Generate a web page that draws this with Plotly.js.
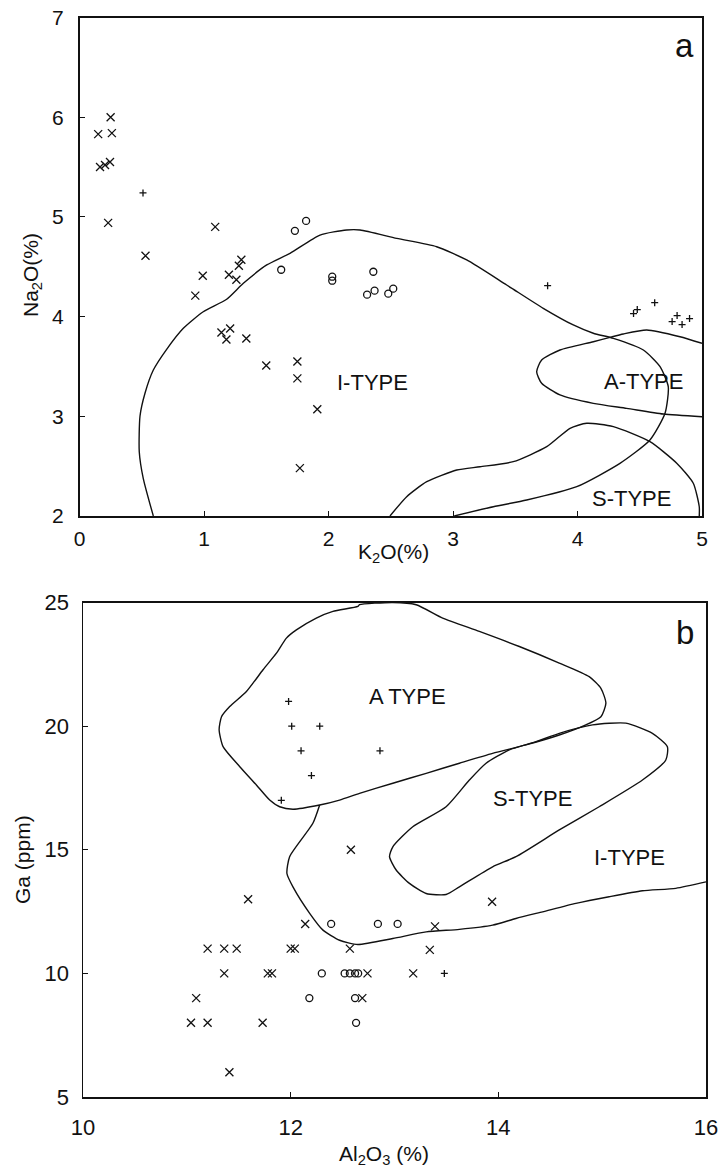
<!DOCTYPE html>
<html>
<head>
<meta charset="utf-8">
<script src="https://cdn.plot.ly/plotly-3.0.1.min.js"></script>
<style>html,body{margin:0;padding:0;background:#fff}#chart{width:722px;height:1167px}</style>
</head>
<body>
<div id="chart"></div>
<script>
// ---------- Panel a : Na2O vs K2O ----------
const aCrossK  = [0.25,0.15,0.26,0.165,0.205,0.245,0.23,1.09,0.53,0.99,0.93,1.20,1.26,1.30,1.28,1.14,1.21,1.18,1.34,1.50,1.75,1.75,1.91,1.77];
const aCrossNa = [6.00,5.83,5.84,5.50,5.52,5.55,4.94,4.90,4.61,4.41,4.21,4.42,4.37,4.57,4.51,3.84,3.88,3.77,3.78,3.51,3.55,3.38,3.07,2.48];
const aCircK   = [1.62,1.73,1.82,2.03,2.03,2.36,2.31,2.37,2.48,2.52];
const aCircNa  = [4.47,4.86,4.96,4.40,4.36,4.45,4.22,4.26,4.23,4.28];
const aPlusK   = [0.51,3.76,4.62,4.45,4.48,4.80,4.76,4.84,4.90];
const aPlusNa  = [5.24,4.31,4.14,4.03,4.07,4.01,3.95,3.92,3.98];

// field boundaries (panel a)
const aITypeK  = [0.593,0.512,0.480,0.486,0.526,0.593,0.700,0.834,0.994,1.182,1.316,1.504,1.691,1.932,2.146,2.253,2.548,2.869,3.110,3.431,3.725,3.966,4.127,4.288,4.529,4.663,4.729,4.703,4.582,4.341,3.994,3.592,3.324,3.010];
const aITypeNa = [2.00,2.378,2.645,3.003,3.231,3.464,3.672,3.883,4.049,4.174,4.334,4.518,4.635,4.818,4.869,4.869,4.785,4.701,4.568,4.317,4.083,3.916,3.833,3.782,3.665,3.498,3.297,3.030,2.762,2.528,2.294,2.160,2.093,2.00];
const aATypeK  = [5.00,4.823,4.556,4.368,4.261,4.127,3.859,3.712,3.672,3.712,3.859,4.127,4.395,4.689,5.00];
const aATypeNa = [3.732,3.798,3.866,3.826,3.792,3.748,3.665,3.565,3.447,3.331,3.214,3.130,3.080,3.023,2.996];
const aSTypeK  = [2.494,2.628,2.789,3.030,3.217,3.484,3.753,3.940,4.074,4.288,4.582,4.797,4.930,4.978,4.978];
const aSTypeNa = [2.00,2.194,2.344,2.461,2.494,2.545,2.695,2.880,2.930,2.896,2.745,2.529,2.328,2.093,2.00];

// ---------- Panel b : Ga vs Al2O3 ----------
const bCrossAl = [12.58,11.59,12.14,11.20,11.36,11.48,12.00,12.04,12.57,11.36,11.78,11.82,11.09,11.04,11.20,11.73,11.41,13.94,13.39,13.34,12.74,13.18,12.69];
const bCrossGa = [15,13,12,11,11,11,11,11,11,10,10,10,9,8,8,8,6,12.9,11.9,10.95,10,10,9];
const bCircAl  = [12.39,12.84,13.03,12.30,12.52,12.57,12.62,12.65,12.18,12.62,12.63];
const bCircGa  = [12,12,12,10,10,10,10,10,9,9,8];
const bPlusAl  = [11.98,12.01,12.28,12.10,12.20,11.91,12.86,13.48];
const bPlusGa  = [21,20,20,19,18,17,19,10];

const bATypeAl = [12.663,12.647,12.407,12.247,12.055,11.959,11.863,11.734,11.574,11.413,11.334,11.311,11.349,11.510,11.670,11.798,11.894,12.022,12.279,12.471,12.663,12.984,13.305,13.625,13.945,14.266,14.587,14.843,14.988,15.036,14.988,14.875,14.587,14.202,13.817,13.464,13.209,12.984,12.663];
const bATypeGa = [24.91,24.84,24.64,24.37,23.89,23.56,22.95,22.28,21.40,20.79,20.38,19.85,19.17,18.36,17.62,17.01,16.74,16.64,16.81,17.01,17.28,17.69,18.09,18.50,18.90,19.24,19.64,20.05,20.38,20.93,21.53,22.00,22.55,23.22,23.83,24.37,24.91,25.00,24.91];
const bITypeAl = [12.279,12.214,11.990,11.964,12.022,12.183,12.311,12.471,12.647,12.984,13.305,13.625,13.945,14.170,14.426,14.747,15.067,15.388,15.709,16.0];
const bITypeGa = [16.81,16.07,14.72,14.04,13.50,12.43,11.75,11.34,11.17,11.41,11.68,11.78,11.95,12.22,12.49,12.83,13.10,13.34,13.44,13.70];
const bSTypeAl = [14.363,14.106,13.882,13.721,13.497,13.176,12.984,12.952,13.016,13.144,13.305,13.497,13.625,13.945,14.170,14.587,14.971,15.388,15.613,15.628,15.484,15.228,14.907,14.587,14.363];
const bSTypeGa = [19.37,19.04,18.50,17.82,16.74,15.93,15.12,14.72,14.18,13.64,13.23,13.19,13.50,14.31,14.72,15.80,16.74,17.82,18.63,19.17,19.71,20.12,20.05,19.71,19.37];

const FONT = "Liberation Sans, Arial, Helvetica, sans-serif";
const INK = "#111";

function curve(x, y, xa, ya) {
  return {x:x, y:y, xaxis:xa, yaxis:ya, mode:"lines", type:"scatter",
          line:{color:INK, width:1.4, shape:"spline", smoothing:0.6}, hoverinfo:"skip"};
}
function pts(x, y, xa, ya, sym, size) {
  return {x:x, y:y, xaxis:xa, yaxis:ya, mode:"markers", type:"scatter",
          marker:{symbol:sym, size:size, color:INK, line:{color:INK, width:1.3}}};
}

const data = [
  curve(aITypeK, aITypeNa, "x", "y"),
  curve(aATypeK, aATypeNa, "x", "y"),
  curve(aSTypeK, aSTypeNa, "x", "y"),
  pts(aCrossK, aCrossNa, "x", "y", "x-thin-open", 8),
  pts(aCircK, aCircNa, "x", "y", "circle-open", 7),
  pts(aPlusK, aPlusNa, "x", "y", "cross-thin-open", 5),
  curve(bATypeAl, bATypeGa, "x2", "y2"),
  curve(bITypeAl, bITypeGa, "x2", "y2"),
  curve(bSTypeAl, bSTypeGa, "x2", "y2"),
  pts(bCrossAl, bCrossGa, "x2", "y2", "x-thin-open", 8),
  pts(bCircAl, bCircGa, "x2", "y2", "circle-open", 7),
  pts(bPlusAl, bPlusGa, "x2", "y2", "cross-thin-open", 5)
];

const W = 722, H = 1167;
function ax(extra) {
  return Object.assign({
    showline:true, mirror:true, linecolor:INK, linewidth:1.5,
    ticks:"inside", ticklen:5, tickwidth:1, tickcolor:INK,
    showgrid:false, zeroline:false, fixedrange:true,
    tickfont:{family:FONT, size:21, color:INK}
  }, extra);
}

const layout = {
  width:W, height:H,
  margin:{l:0, r:0, t:0, b:0},
  paper_bgcolor:"#fff", plot_bgcolor:"#fff",
  showlegend:false,
  xaxis: ax({domain:[79.5/W, 702/W], range:[0,5], tickvals:[0,1,2,3,4,5], anchor:"y", ticklabelstandoff:3}),
  yaxis: ax({domain:[1-516/H, 1-17.5/H], range:[2,7], tickvals:[2,3,4,5,6,7], anchor:"x", ticklabelstandoff:10}),
  xaxis2: ax({domain:[83/W, 706/W], range:[10,16], tickvals:[10,12,14,16], anchor:"y2", ticklabelstandoff:10, tickfont:{family:FONT, size:22, color:INK}}),
  yaxis2: ax({domain:[1-1097/H, 1-602.5/H], range:[5,25], tickvals:[5,10,15,20,25], anchor:"x2", ticklabelstandoff:8, tickfont:{family:FONT, size:22, color:INK}}),
  annotations: [
    {text:"I-TYPE", x:2.357, y:3.344, xref:"x", yref:"y", showarrow:false, font:{family:FONT, size:22, color:INK}},
    {text:"A-TYPE", x:4.53, y:3.354, xref:"x", yref:"y", showarrow:false, font:{family:FONT, size:22, color:INK}},
    {text:"S-TYPE", x:4.43, y:2.18, xref:"x", yref:"y", showarrow:false, font:{family:FONT, size:22, color:INK}},
    {text:"a", x:4.856, y:6.72, xref:"x", yref:"y", showarrow:false, font:{family:FONT, size:33, color:INK}},
    {text:"A TYPE", x:13.125, y:21.18, xref:"x2", yref:"y2", showarrow:false, font:{family:FONT, size:22, color:INK}},
    {text:"S-TYPE", x:14.327, y:17.09, xref:"x2", yref:"y2", showarrow:false, font:{family:FONT, size:22, color:INK}},
    {text:"I-TYPE", x:15.26, y:14.70, xref:"x2", yref:"y2", showarrow:false, font:{family:FONT, size:22, color:INK}},
    {text:"b", x:15.8, y:23.77, xref:"x2", yref:"y2", showarrow:false, font:{family:FONT, size:33, color:INK}},
    {text:"Na<sub>2</sub>O(%)", x:32/W, y:1-275/H, xref:"paper", yref:"paper", xanchor:"center", yanchor:"middle", textangle:-90, showarrow:false, font:{family:FONT, size:21, color:INK}},
    {text:"K<sub>2</sub>O(%)", x:393/W, y:1-553/H, xref:"paper", yref:"paper", xanchor:"center", yanchor:"middle", showarrow:false, font:{family:FONT, size:21, color:INK}},
    {text:"Ga (ppm)", x:22/W, y:1-860/H, xref:"paper", yref:"paper", xanchor:"center", yanchor:"middle", textangle:-90, showarrow:false, font:{family:FONT, size:21, color:INK}},
    {text:"Al<sub>2</sub>O<sub>3</sub> (%)", x:384/W, y:1-1155/H, xref:"paper", yref:"paper", xanchor:"center", yanchor:"middle", showarrow:false, font:{family:FONT, size:21, color:INK}}
  ]
};

Plotly.newPlot("chart", data, layout, {staticPlot:true, displayModeBar:false});
</script>
</body>
</html>
